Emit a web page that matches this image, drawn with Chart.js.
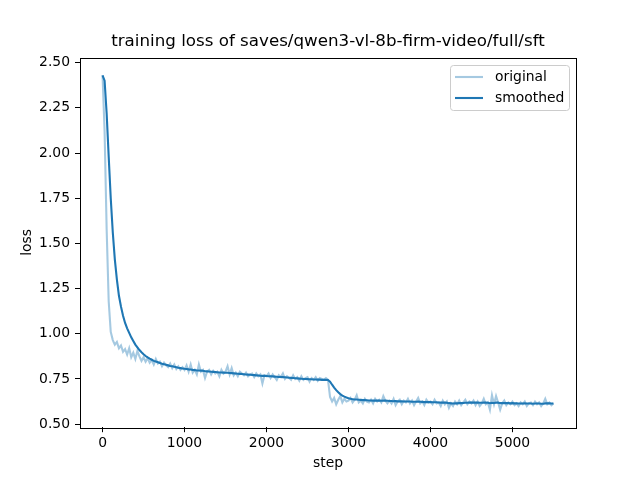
<!DOCTYPE html>
<html>
<head>
<meta charset="utf-8">
<script src="https://cdn.jsdelivr.net/npm/chart.js@4.4.0/dist/chart.umd.min.js"></script>
<style>
  html, body { margin: 0; padding: 0; background: #fff; }
  canvas { display: block; }
</style>
</head>
<body>
<canvas id="chart" width="640" height="480"></canvas>
<script>
// logged steps (every 25)
var steps = [
  0, 25, 50, 75, 100, 125, 150, 175, 200, 225,
  250, 275, 300, 325, 350, 375, 400, 425, 450, 475,
  500, 525, 550, 575, 600, 625, 650, 675, 700, 725,
  750, 775, 800, 825, 850, 875, 900, 925, 950, 975,
  1000, 1025, 1050, 1075, 1100, 1125, 1150, 1175, 1200, 1225,
  1250, 1275, 1300, 1325, 1350, 1375, 1400, 1425, 1450, 1475,
  1500, 1525, 1550, 1575, 1600, 1625, 1650, 1675, 1700, 1725,
  1750, 1775, 1800, 1825, 1850, 1875, 1900, 1925, 1950, 1975,
  2000, 2025, 2050, 2075, 2100, 2125, 2150, 2175, 2200, 2225,
  2250, 2275, 2300, 2325, 2350, 2375, 2400, 2425, 2450, 2475,
  2500, 2525, 2550, 2575, 2600, 2625, 2650, 2675, 2700, 2725,
  2750, 2775, 2800, 2825, 2850, 2875, 2900, 2925, 2950, 2975,
  3000, 3025, 3050, 3075, 3100, 3125, 3150, 3175, 3200, 3225,
  3250, 3275, 3300, 3325, 3350, 3375, 3400, 3425, 3450, 3475,
  3500, 3525, 3550, 3575, 3600, 3625, 3650, 3675, 3700, 3725,
  3750, 3775, 3800, 3825, 3850, 3875, 3900, 3925, 3950, 3975,
  4000, 4025, 4050, 4075, 4100, 4125, 4150, 4175, 4200, 4225,
  4250, 4275, 4300, 4325, 4350, 4375, 4400, 4425, 4450, 4475,
  4500, 4525, 4550, 4575, 4600, 4625, 4650, 4675, 4700, 4725,
  4750, 4775, 4800, 4825, 4850, 4875, 4900, 4925, 4950, 4975,
  5000, 5025, 5050, 5075, 5100, 5125, 5150, 5175, 5200, 5225,
  5250, 5275, 5300, 5325, 5350, 5375, 5400, 5425, 5450, 5475,
  5500
];

// raw loss
var originalLoss = [
  2.43, 2.12, 1.58, 1.18, 1.01, 0.965, 0.94, 0.955, 0.92, 0.935,
  0.90, 0.915, 0.885, 0.92, 0.87, 0.895, 0.86, 0.905, 0.875, 0.85,
  0.87, 0.845, 0.865, 0.84, 0.855, 0.83, 0.86, 0.835, 0.845, 0.82,
  0.84, 0.825, 0.815, 0.835, 0.81, 0.83, 0.805, 0.82, 0.80, 0.815,
  0.80, 0.825, 0.79, 0.83, 0.785, 0.80, 0.775, 0.83, 0.79, 0.80,
  0.755, 0.79, 0.80, 0.775, 0.795, 0.78, 0.79, 0.765, 0.80, 0.78,
  0.79, 0.82, 0.775, 0.81, 0.77, 0.785, 0.765, 0.79, 0.78, 0.77,
  0.785, 0.765, 0.775, 0.78, 0.76, 0.78, 0.765, 0.775, 0.725, 0.77,
  0.765, 0.78, 0.755, 0.775, 0.76, 0.745, 0.77, 0.76, 0.78, 0.75,
  0.765, 0.755, 0.745, 0.77, 0.75, 0.76, 0.74, 0.765, 0.745, 0.755,
  0.76, 0.735, 0.755, 0.745, 0.76, 0.74, 0.755, 0.75, 0.745, 0.755,
  0.745, 0.65, 0.625, 0.645, 0.61, 0.635, 0.655, 0.62, 0.64, 0.625,
  0.63, 0.645, 0.62, 0.635, 0.66, 0.62, 0.63, 0.615, 0.64, 0.625,
  0.62, 0.635, 0.615, 0.64, 0.625, 0.635, 0.62, 0.655, 0.63, 0.615,
  0.63, 0.615, 0.64, 0.605, 0.625, 0.635, 0.61, 0.63, 0.62, 0.64,
  0.615, 0.63, 0.605, 0.625, 0.645, 0.615, 0.625, 0.605, 0.635, 0.62,
  0.625, 0.61, 0.635, 0.615, 0.62, 0.60, 0.63, 0.61, 0.625, 0.59,
  0.615, 0.60, 0.625, 0.61, 0.63, 0.605, 0.62, 0.635, 0.61, 0.625,
  0.615, 0.63, 0.605, 0.625, 0.60, 0.615, 0.64, 0.61, 0.62, 0.58,
  0.66, 0.61, 0.655, 0.62, 0.58, 0.615, 0.63, 0.605, 0.62, 0.61,
  0.625, 0.605, 0.615, 0.60, 0.62, 0.61, 0.625, 0.60, 0.615, 0.62,
  0.605, 0.625, 0.61, 0.62, 0.60, 0.615, 0.64, 0.61, 0.62, 0.605,
  0.615
];

// smoothed curve
var smoothedLoss = [
  2.43, 2.40, 2.22, 1.98, 1.75, 1.56, 1.41, 1.30, 1.21, 1.15,
  1.10, 1.06, 1.03, 1.005, 0.98, 0.96, 0.94, 0.925, 0.91, 0.898,
  0.887, 0.877, 0.869, 0.862, 0.856, 0.85, 0.846, 0.842, 0.838, 0.834,
  0.831, 0.828, 0.825, 0.822, 0.82, 0.817, 0.815, 0.812, 0.81, 0.808,
  0.806, 0.805, 0.803, 0.802, 0.80, 0.799, 0.797, 0.797, 0.796, 0.795,
  0.793, 0.792, 0.791, 0.79, 0.789, 0.788, 0.787, 0.786, 0.786, 0.785,
  0.784, 0.784, 0.783, 0.782, 0.781, 0.78, 0.779, 0.778, 0.777, 0.776,
  0.775, 0.774, 0.773, 0.772, 0.771, 0.77, 0.769, 0.768, 0.767, 0.767,
  0.766, 0.765, 0.765, 0.764, 0.763, 0.762, 0.761, 0.761, 0.76, 0.759,
  0.758, 0.757, 0.756, 0.755, 0.754, 0.753, 0.752, 0.751, 0.750, 0.750,
  0.749, 0.748, 0.748, 0.747, 0.747, 0.746, 0.746, 0.745, 0.745, 0.745,
  0.744, 0.735, 0.718, 0.702, 0.688, 0.676, 0.666, 0.658, 0.652, 0.647,
  0.643, 0.640, 0.638, 0.636, 0.636, 0.635, 0.634, 0.633, 0.633, 0.632,
  0.631, 0.631, 0.630, 0.630, 0.630, 0.630, 0.629, 0.630, 0.630, 0.629,
  0.628, 0.628, 0.627, 0.627, 0.626, 0.626, 0.626, 0.625, 0.625, 0.625,
  0.625, 0.624, 0.624, 0.624, 0.625, 0.624, 0.623, 0.622, 0.622, 0.622,
  0.622, 0.621, 0.621, 0.621, 0.620, 0.619, 0.619, 0.619, 0.618, 0.616,
  0.615, 0.614, 0.615, 0.615, 0.616, 0.616, 0.617, 0.618, 0.618, 0.619,
  0.619, 0.620, 0.619, 0.619, 0.618, 0.618, 0.619, 0.619, 0.618, 0.616,
  0.618, 0.617, 0.619, 0.619, 0.616, 0.616, 0.617, 0.616, 0.616, 0.615,
  0.616, 0.615, 0.615, 0.614, 0.614, 0.614, 0.615, 0.614, 0.614, 0.614,
  0.613, 0.614, 0.614, 0.614, 0.613, 0.613, 0.615, 0.615, 0.615, 0.614,
  0.614
];

var xTicks = [0, 1000, 2000, 3000, 4000, 5000];
var yTicks = [0.50, 0.75, 1.00, 1.25, 1.50, 1.75, 2.00, 2.25, 2.50];
var seriesNames = ["original", "smoothed"];
var chartTitle = "training loss of saves/qwen3-vl-8b-firm-video/full/sft";

function toPoints(vals){
    return vals.map(function(v, i){
        return {x: steps[i], y: v};
    });
}

var lightBlue = "rgba(31,119,180,0.4)";
var darkBlue = "#1f77b4";

Chart.defaults.font.family = "'DejaVu Sans', sans-serif";
Chart.defaults.color = "#000";

// axes frame (all four spines), title centred over the axes, and legend box
var framePlugin = {
    id: "frame",
    afterDraw: function(chart){
        var ctx = chart.ctx;
        var a = chart.chartArea;
        ctx.save();
        ctx.strokeStyle = "#000";
        ctx.lineWidth = 1;
        ctx.strokeRect(Math.round(a.left) + 0.5, Math.round(a.top) + 0.5,
            Math.round(a.right - a.left), Math.round(a.bottom - a.top));

        // title
        ctx.fillStyle = "#000";
        ctx.font = "16.7px 'DejaVu Sans', sans-serif";
        ctx.textAlign = "center";
        ctx.textBaseline = "middle";
        ctx.fillText(chartTitle, (a.left + a.right) / 2, 42);

        // legend box
        var bx = 450.5, by = 65.5, bw = 119, bh = 45, r = 3;
        ctx.beginPath();
        ctx.moveTo(bx + r, by);
        ctx.lineTo(bx + bw - r, by);
        ctx.arcTo(bx + bw, by, bx + bw, by + r, r);
        ctx.lineTo(bx + bw, by + bh - r);
        ctx.arcTo(bx + bw, by + bh, bx + bw - r, by + bh, r);
        ctx.lineTo(bx + r, by + bh);
        ctx.arcTo(bx, by + bh, bx, by + bh - r, r);
        ctx.lineTo(bx, by + r);
        ctx.arcTo(bx, by, bx + r, by, r);
        ctx.closePath();
        ctx.fillStyle = "rgba(255,255,255,0.8)";
        ctx.fill();
        ctx.strokeStyle = "#cccccc";
        ctx.stroke();

        var colors = [lightBlue, darkBlue];
        var rows = [77, 98];
        ctx.font = "13.9px 'DejaVu Sans', sans-serif";
        ctx.textAlign = "left";
        for (var i = 0; i < seriesNames.length; i++){
            ctx.strokeStyle = colors[i];
            ctx.lineWidth = 2.1;
            ctx.beginPath();
            ctx.moveTo(455, rows[i]);
            ctx.lineTo(483, rows[i]);
            ctx.stroke();
            ctx.fillStyle = "#000";
            ctx.fillText(seriesNames[i], 495, rows[i]);
        }
        ctx.restore();
    }
};

var chart = new Chart("chart", {
    type: "line",
    data: {
        datasets: [
            {
                label: seriesNames[0],
                data: toPoints(originalLoss),
                borderColor: lightBlue,
                borderWidth: 2.1,
                pointRadius: 0,
                tension: 0,
                fill: false
            },
            {
                label: seriesNames[1],
                data: toPoints(smoothedLoss),
                borderColor: darkBlue,
                borderWidth: 2.1,
                pointRadius: 0,
                tension: 0,
                fill: false
            }
        ]
    },
    options: {
        responsive: false,
        animation: false,
        devicePixelRatio: 1,
        layout: { padding: { left: 0, right: 64, top: 57.6, bottom: 0 } },
        plugins: {
            legend: { display: false },
            tooltip: { enabled: false },
            title: { display: false }
        },
        scales: {
            x: {
                type: "linear",
                min: -275,
                max: 5775,
                afterBuildTicks: function(scale){
                    scale.ticks = xTicks.map(function(v){ return {value: v}; });
                },
                afterFit: function(scale){ scale.height = 52.8; },
                ticks: {
                    font: { size: 13.9 },
                    padding: 3,
                    maxRotation: 0,
                    callback: function(v){ return String(v); }
                },
                grid: {
                    drawOnChartArea: false,
                    drawTicks: true,
                    tickLength: 5,
                    color: "#000",
                    lineWidth: 1
                },
                border: { display: false },
                title: {
                    display: true,
                    text: "step",
                    font: { size: 13.9 },
                    padding: { top: 0, bottom: 8.7 }
                }
            },
            y: {
                type: "linear",
                min: 0.483,
                max: 2.528,
                afterBuildTicks: function(scale){
                    scale.ticks = yTicks.map(function(v){ return {value: v}; });
                },
                afterFit: function(scale){ scale.width = 80; },
                ticks: {
                    font: { size: 13.9 },
                    padding: 5,
                    callback: function(v){ return Number(v).toFixed(2); }
                },
                grid: {
                    drawOnChartArea: false,
                    drawTicks: true,
                    tickLength: 5,
                    color: "#000",
                    lineWidth: 1
                },
                border: { display: false },
                title: {
                    display: true,
                    text: "loss",
                    font: { size: 13.9 },
                    padding: { top: 18.7, bottom: 0 }
                }
            }
        }
    },
    plugins: [framePlugin]
});
</script>
</body>
</html>
